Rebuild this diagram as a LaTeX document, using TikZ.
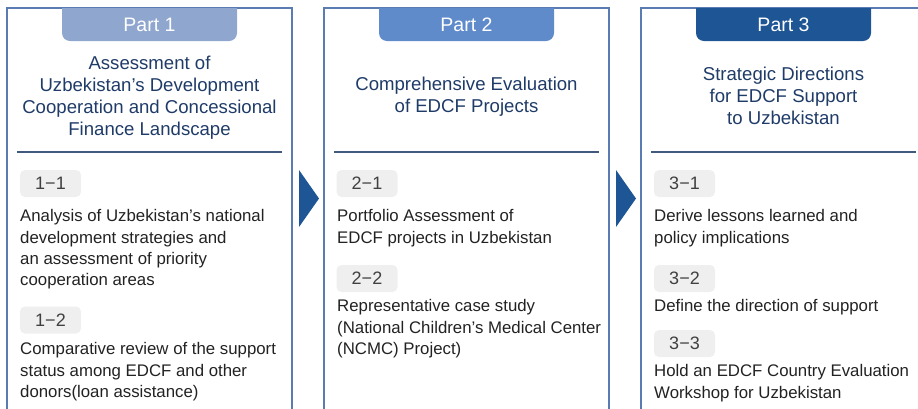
\documentclass[tikz,border=0pt]{standalone}
\usepackage{fontspec}
\setmainfont{Liberation Sans}

\definecolor{frameblue}{HTML}{5B7CB2}
\definecolor{navy}{HTML}{1F3B68}
\definecolor{tabA}{HTML}{8FA6CE}
\definecolor{tabB}{HTML}{5F8BCB}
\definecolor{tabC}{HTML}{1E5594}
\definecolor{badgegray}{HTML}{EFEFEF}
\definecolor{bodytext}{HTML}{222222}

\begin{document}
\begin{tikzpicture}[x=1pt,y=-1pt,
	frm/.style={draw=frameblue,line width=1.4pt},
	rule/.style={draw=navy!85,line width=1.1pt},
	tabtext/.style={inner sep=0pt,text=white,font=\fontsize{19.5}{19.5}\selectfont},
	title/.style={inner sep=0pt,align=center,text=navy,font=\fontsize{18.6}{22}\selectfont},
	badge/.style={fill=badgegray,rounded corners=5pt,minimum width=61pt,minimum height=27pt,inner sep=0pt,text=black!75,font=\fontsize{18}{18}\selectfont},
	desc/.style={anchor=north west,inner sep=0pt,align=left,text=bodytext,font=\fontsize{16.8}{21.2}\selectfont}]
	\useasboundingbox (0,0) rectangle (918,408);
	\clip (0,0) rectangle (918,408);

	\draw[frm] (7,420) -- (7,8) -- (292,8) -- (292,420);
	\draw[frm] (324,420) -- (324,8) -- (609,8) -- (609,420);
	\draw[frm] (641,420) -- (641,8) -- (926,8) -- (926,420);

	\fill[tabA] (62,8) [rounded corners=8pt] -- (62,41) -- (237,41) [sharp corners] -- (237,8) -- cycle;
	\fill[tabB] (379,8) [rounded corners=8pt] -- (379,41) -- (554,41) [sharp corners] -- (554,8) -- cycle;
	\fill[tabC] (696,8) [rounded corners=8pt] -- (696,41) -- (871,41) [sharp corners] -- (871,8) -- cycle;
	\node[tabtext] (P1) at (149.5,25) {Part 1};
	\node[tabtext] (P2) at (466.5,25) {Part 2};
	\node[tabtext] (P3) at (783.5,25) {Part 3};

	\node[title] (H1) at (149.5,98) {Assessment of\\Uzbekistan’s Development\\Cooperation and Concessional\\Finance Landscape};
	\node[title] (H2) at (466.5,97) {Comprehensive Evaluation\\of EDCF Projects};
	\node[title] (H3) at (783.5,96) {Strategic Directions\\for EDCF Support\\to Uzbekistan};

	\draw[rule] (17,152) -- (282,152);
	\draw[rule] (334,152) -- (599,152);
	\draw[rule] (651,152) -- (916,152);

	\fill[tabC] (299,170) -- (319,198.5) -- (299,227) -- cycle;
	\fill[tabC] (616,170) -- (636,198.5) -- (616,227) -- cycle;

	\node[badge] (B11) at (50.5,183.5) {1−1};
	\node[desc] (D11) at (20,209.5) {Analysis of Uzbekistan’s national\\development strategies and\\an assessment of priority\\cooperation areas};
	\node[badge] (B12) at (50.5,320) {1−2};
	\node[desc] (D12) at (20,342.5) {Comparative review of the support\\status among EDCF and other\\donors(loan assistance)};

	\node[badge] (B21) at (367,183.5) {2−1};
	\node[desc] (D21) at (337,209.5) {Portfolio Assessment of\\EDCF projects in Uzbekistan};
	\node[badge] (B22) at (367,278.5) {2−2};
	\node[desc] (D22) at (337,299.5) {Representative case study\\(National Children’s Medical Center\\(NCMC) Project)};

	\node[badge] (B31) at (684.5,183.5) {3−1};
	\node[desc] (D31) at (654,209.5) {Derive lessons learned and\\policy implications};
	\node[badge] (B32) at (684.5,278.5) {3−2};
	\node[desc] (D32) at (654,299.5) {Define the direction of support};
	\node[badge] (B33) at (684.5,343.5) {3−3};
	\node[desc] (D33) at (654,364.5) {Hold an EDCF Country Evaluation\\Workshop for Uzbekistan};
\end{tikzpicture}
\end{document}
